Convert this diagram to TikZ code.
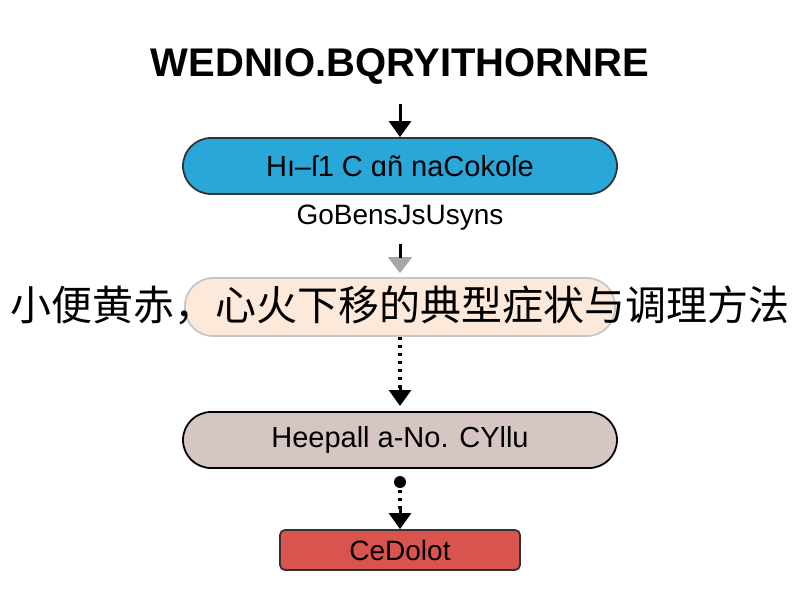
\documentclass[tikz,border=0pt]{standalone}
\usepackage{fontspec}
\setmainfont{Liberation Sans}
\newfontfamily\cjk{Noto Sans CJK SC}
\usetikzlibrary{arrows.meta}
\definecolor{cblue}{HTML}{2AA7D9}
\definecolor{cpeach}{HTML}{FCE9DA}
\definecolor{cmauve}{HTML}{D5C6C3}
\definecolor{cred}{HTML}{D9534F}
\begin{document}
\begin{tikzpicture}[x=1pt,y=-1pt,
  pill/.style={rounded corners=28pt,draw,line width=1.8pt,minimum width=434pt,minimum height=56pt,font=\fontsize{29}{32}\selectfont},
  arr/.style={-{Triangle[length=16pt,width=22pt]},line width=3pt},
  dotl/.style={dash pattern=on 3pt off 5pt,line width=3.5pt}]
\useasboundingbox (0,0) rectangle (800,600);
\fill[white] (0,0) rectangle (800,600);
\node[font=\bfseries\fontsize{40}{44}\selectfont] (title) at (400,66) {WEDNIO.BQRYITHORNRE};
\node[pill,fill=cblue,draw=black!80] (n1) at (400,166) {Hı–ſ1 C ɑñ naCokoſe};
\node[font=\fontsize{28}{32}\selectfont] (lab) at (400,218) {GoBensJsUsyns};
\node[pill,fill=cpeach,draw=black!22,minimum width=430pt,minimum height=58pt] (n2) at (400,307) {};
\node[pill,fill=cmauve,draw=black] (n3) at (400,440) {Heepall a-No. CYllu};
\node[draw=black!80,line width=1.8pt,fill=cred,rounded corners=5pt,minimum width=240pt,minimum height=40pt,font=\fontsize{28}{32}\selectfont] (n4) at (400,550) {CeDolot};
\coordinate (a1) at (400,104);
\draw[arr] (a1) -- (n1.north);
\coordinate (g1) at (400,244);
\draw[-{Triangle[length=16pt,width=24pt]},line width=3pt,black!35] (g1) -- (400,273);
\draw[line width=3pt] (g1) -- (400,258);
\draw[dotl] (n2.south) -- (400,392);
\draw[arr] (400,386) -- (400,406);
\fill (400,482) circle (6pt) coordinate (dt);
\draw[dotl] (dt) -- (400,514);
\draw[arr] (400,508) -- (n4.north);
\node[font=\cjk\fontsize{41}{46}\selectfont] (zh) at (400,305) {小便黄赤，心火下移的典型症状与调理方法};
\end{tikzpicture}
\end{document}
